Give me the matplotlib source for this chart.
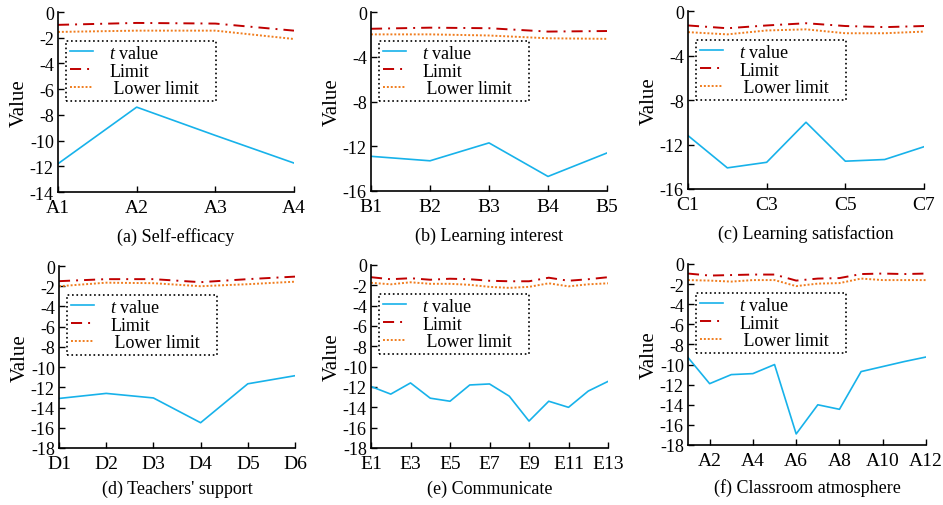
import matplotlib
matplotlib.use("Agg")
import matplotlib.pyplot as plt
import numpy as np

plt.rcParams['font.family'] = ['Liberation Serif', 'DejaVu Serif']
plt.rcParams['mathtext.fontset'] = 'custom'
plt.rcParams['mathtext.it'] = 'Liberation Serif:italic'

# panel data
a_labels = ["A1", "A2", "A3", "A4"]
a_t = [-11.8, -7.4, -9.6, -11.75]
a_lim = [-1.0, -0.85, -0.9, -1.45]
a_low = [-1.55, -1.45, -1.45, -2.1]

b_labels = ["B1", "B2", "B3", "B4", "B5"]
b_t = [-12.9, -13.3, -11.7, -14.7, -12.6]
b_lim = [-1.5, -1.4, -1.45, -1.75, -1.7]
b_low = [-2.0, -2.0, -2.1, -2.35, -2.4]

c_labels = ["C1", "C2", "C3", "C4", "C5", "C6", "C7"]
c_t = [-11.2, -14.1, -13.6, -10.0, -13.5, -13.35, -12.2]
c_lim = [-1.3, -1.55, -1.3, -1.1, -1.35, -1.45, -1.35]
c_low = [-1.9, -2.1, -1.75, -1.65, -2.0, -2.0, -1.85]

d_labels = ["D1", "D2", "D3", "D4", "D5", "D6"]
d_t = [-13.1, -12.6, -13.05, -15.5, -11.65, -10.85]
d_lim = [-1.5, -1.3, -1.3, -1.6, -1.3, -1.05]
d_low = [-2.0, -1.65, -1.7, -2.0, -1.8, -1.55]

e_labels = ["E%d" % i for i in range(1, 14)]
e_t = [-11.95, -12.7, -11.6, -13.1, -13.4, -11.8, -11.7, -12.9, -15.35, -13.4, -14.0, -12.4, -11.45]
e_lim = [-1.2, -1.4, -1.3, -1.45, -1.35, -1.4, -1.55, -1.6, -1.6, -1.25, -1.55, -1.4, -1.2]
e_low = [-1.75, -1.9, -1.7, -1.85, -1.85, -1.95, -2.15, -2.25, -2.15, -1.8, -2.1, -1.9, -1.8]

f_labels = ["A%d" % i for i in range(1, 13)]
f_t = [-9.3, -11.9, -11.0, -10.9, -10.0, -16.9, -14.0, -14.45, -10.7, -10.2, -9.7, -9.25]
f_lim = [-0.95, -1.15, -1.1, -1.05, -1.05, -1.65, -1.45, -1.4, -1.0, -0.95, -1.0, -0.95]
f_low = [-1.6, -1.65, -1.75, -1.6, -1.6, -2.2, -1.95, -1.9, -1.45, -1.6, -1.6, -1.6]

W, H = 943, 506
fig = plt.figure(figsize=(W / 100, H / 100), dpi=100)

# (labels, t, lim, low, caption, ymin, ystep, xtick step, offset, box px: left right top bottom, caption gap)
panels = [
    (a_labels, a_t, a_lim, a_low, "(a) Self-efficacy", -14, 2, 1, 0, (58, 294, 13, 193), 44),
    (b_labels, b_t, b_lim, b_low, "(b) Learning interest", -16, 4, 1, 0, (371, 607, 13, 192), 44),
    (c_labels, c_t, c_lim, c_low, "(c) Learning satisfaction", -16, 4, 2, 0, (688, 924, 12, 190), 44),
    (d_labels, d_t, d_lim, d_low, "(d) Teachers' support", -18, 2, 1, 0, (59, 295, 267, 449), 40),
    (e_labels, e_t, e_lim, e_low, "(e) Communicate", -18, 2, 2, 0, (371, 608, 266, 449), 40),
    (f_labels, f_t, f_lim, f_low, "(f) Classroom atmosphere", -18, 2, 2, 1, (688, 926, 265, 446), 42),
]

for labels, tv, lim, low, cap, ymin, ystep, xstep, off, (l, r, t, b), cgap in panels:
    ax = fig.add_axes([l / W, 1 - b / H, (r - l) / W, (b - t) / H])
    x = np.arange(1, len(labels) + 1)
    ax.plot(x, tv, color='#17b2ea', lw=1.2, label=r'$t$ value')
    ax.plot(x, lim, color='#c00000', lw=1.4, dashes=(5.7, 3.1, 1, 3.1), label='Limit')
    ax.plot(x, low, color='#f07d1e', lw=1.4, dashes=(1, 1), label=' Lower limit   ')
    ax.set_xlim(1, len(labels))
    ax.set_ylim(ymin, 0)
    ax.set_yticks(np.arange(ymin, 1, ystep))
    ax.set_yticklabels([str(v) for v in np.arange(ymin, 1, ystep)])
    xt = x[off::xstep]
    ax.set_xticks(xt)
    ax.set_xticklabels([labels[i - 1] for i in xt])
    for s in ['top', 'right']:
        ax.spines[s].set_visible(False)
    for s in ['left', 'bottom']:
        ax.spines[s].set_linewidth(1.2)
    ax.tick_params(direction='in', length=4, width=1, labelsize=14)
    ax.tick_params(axis='x', pad=5)
    ax.tick_params(axis='y', pad=3, labelsize=13)
    ax.set_ylabel('Value', fontsize=15, va='center')
    ax.yaxis.set_label_coords(-39 / (r - l), 0.5)
    leg = ax.legend(loc='upper left', bbox_to_anchor=((l + 8) / W, 1 - (t + 29) / H),
                    bbox_transform=fig.transFigure, borderaxespad=0, fontsize=13,
                    fancybox=False, handlelength=1.3, handletextpad=0.9,
                    labelspacing=0.05, borderpad=0.2, framealpha=1)
    fr = leg.get_frame()
    fr.set_edgecolor('black')
    fr.set_linestyle(':')
    fr.set_linewidth(1.2)
    fig.text((l + r) / 2 / W, 1 - (b + cgap) / H, cap, ha='center', va='center', fontsize=13)

fig.savefig('out.png', dpi=100)
